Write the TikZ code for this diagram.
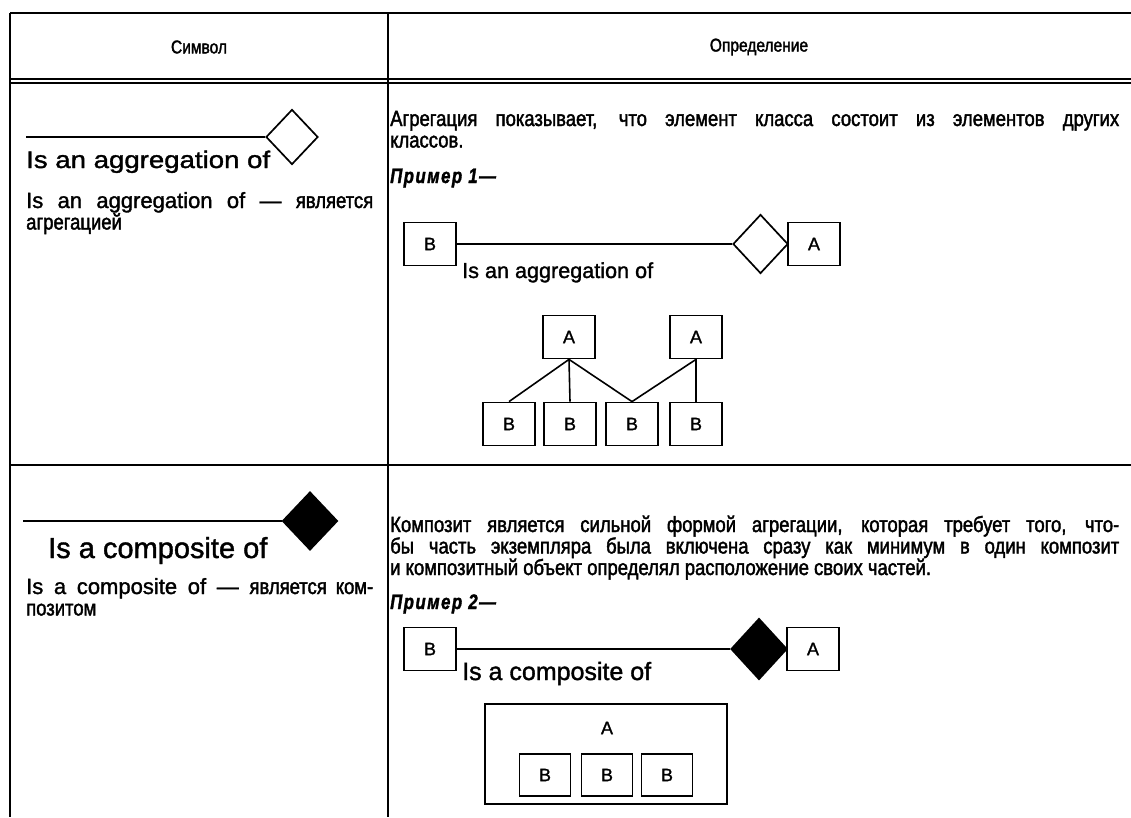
\documentclass[tikz,border=0pt]{standalone}
\usepackage{fontspec}
\setmainfont{Liberation Sans}[FakeBold=1.4]
\newfontfamily\widesans[FakeStretch=1.15, FakeBold=1.4]{Liberation Sans}
\newfontfamily\cyr[FakeStretch=0.84, FakeBold=1.8]{Liberation Sans}
\newfontfamily\primerfont[FakeStretch=0.8, LetterSpace=7, FakeBold=1.5]{Liberation Sans}
\newcommand\ru[1]{{\cyr\fontsize{22}{22}\selectfont #1}}
\usetikzlibrary{shapes.geometric}

\tikzset{
  tabrule/.style={line width=1.3pt},
  conn/.style={line width=1.6pt},
  cls/.style={draw, line width=1.8pt, minimum width=52pt, minimum height=43pt,
    inner sep=0pt, font=\fontsize{18}{18}\selectfont},
  agg/.style={draw, diamond, line width=1.7pt, inner sep=0pt},
  comp/.style={agg, fill=black},
  head/.style={inner sep=0pt, font=\cyr\fontsize{18.5}{19}\selectfont},
  body/.style={inner sep=0pt, anchor=base west, align=justify,
    font=\cyr\fontsize{22}{21.5}\selectfont},
  note/.style={inner sep=0pt, anchor=base west, align=justify,
    text width=347pt, font=\fontsize{22}{21.5}\selectfont},
  primer/.style={inner sep=0pt, anchor=base west,
    font=\primerfont\bfseries\itshape\fontsize{21}{22}\selectfont},
  biglabel/.style={inner sep=0pt, anchor=base west},
}

\begin{document}
\begin{tikzpicture}[x=1pt, y=-1pt]
  \useasboundingbox (0,0) rectangle (1131,817);
  % table rules
  \draw[tabrule] (10,13) -- (1131,13);
  \draw[tabrule] (10,79) -- (1131,79);
  \draw[tabrule] (10,83) -- (1131,83);
  \draw[tabrule] (10,465) -- (1131,465);
  \draw[tabrule] (10,13) -- (10,817);
  \draw[tabrule] (388,13) -- (388,817);
  \node[head] (hsym) at (199,47) {Символ};
  \node[head] (hdef) at (759,47) {Определение};

  % row 1: aggregation symbol
  \coordinate (s1) at (26,137);
  \node[agg, minimum width=52pt, minimum height=55pt] (sd1) at (292,137) {};
  \draw[conn] (s1) -- (sd1.west);
  \node[biglabel, font=\widesans\fontsize{24}{24}\selectfont] (sl1) at (26,168) {Is an aggregation of};
  \node[note] (st1) at (26,208) {Is an aggregation of — \ru{является}\linebreak \ru{агрегацией}};

  % row 1: definition
  \node[body, text width=729pt] (dt1) at (390,126)
    {Агрегация показывает, что элемент класса состоит из элементов других\linebreak классов.};
  \node[primer] (ex1) at (390,183) {Пример 1—};
  \node[cls] (b0) at (430,244) {B};
  \node[agg, minimum width=55pt, minimum height=59pt] (d0) at (760.5,244) {};
  \node[cls] (a0) at (814,244) {A};
  \draw[conn] (b0) -- (d0);
  \node[biglabel, font=\fontsize{21.6}{22}\selectfont] (l0) at (462,278) {Is an aggregation of};
  \foreach \n/\x in {a1/569, a2/696}
    \node[cls] (\n) at (\x,337) {A};
  \foreach \n/\x in {b1/509, b2/570, b3/632, b4/696}
    \node[cls] (\n) at (\x,424) {B};
  \foreach \p/\c in {a1/b1, a1/b2, a1/b3, a2/b3, a2/b4}
    \draw[conn] (\p.south) -- (\c.north);

  % row 2: composite symbol
  \coordinate (s2) at (23,521);
  \node[comp, minimum width=55pt, minimum height=58pt] (sd2) at (310,521) {};
  \draw[conn] (s2) -- (sd2.west);
  \node[biglabel, font=\fontsize{29}{29}\selectfont] (sl2) at (48,558) {Is a composite of};
  \node[note] (st2) at (26,594) {Is a composite of — \ru{является ком-}\linebreak \ru{позитом}};

  % row 2: definition
  \node[body, text width=729pt] (dt2) at (390,532)
    {Композит является сильной формой агрегации, которая требует того, что-\linebreak
     бы часть экземпляра была включена сразу как минимум в один композит\linebreak
     и композитный объект определял расположение своих частей.};
  \node[primer] (ex2) at (390,609) {Пример 2—};
  \node[cls] (b5) at (430,649) {B};
  \node[comp, minimum width=56pt, minimum height=61pt] (d5) at (759,649) {};
  \node[cls] (a5) at (813,649) {A};
  \draw[conn] (b5) -- (d5);
  \node[biglabel, font=\fontsize{25}{25}\selectfont] (l5) at (462,680) {Is a composite of};
  \node[draw, line width=1.8pt, minimum width=242pt, minimum height=100pt] (cont) at (606,754) {};
  \node[inner sep=0pt, font=\fontsize{18}{18}\selectfont] (ca) at (607,728) {A};
  \foreach \n/\x in {c1/545, c2/607, c3/667}
    \node[cls, minimum width=51pt, minimum height=42pt] (\n) at (\x,775) {B};
\end{tikzpicture}
\end{document}
